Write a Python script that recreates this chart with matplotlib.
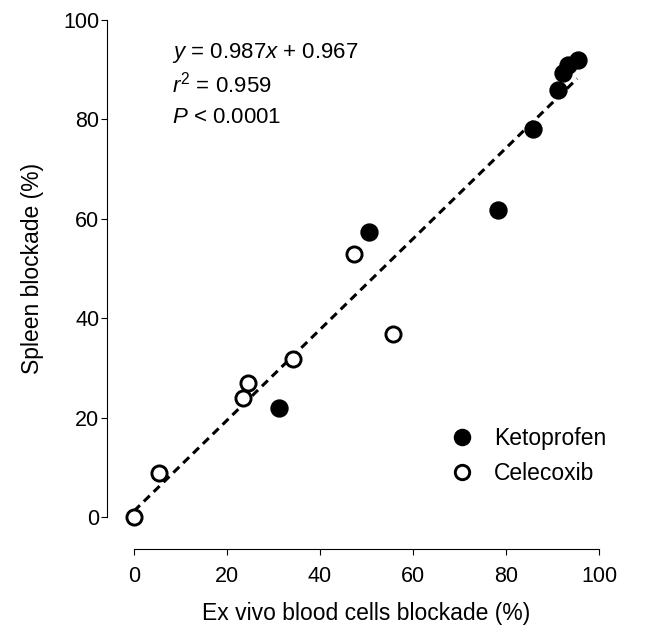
import numpy as np
import matplotlib.pyplot as plt

plt.rcParams['font.family'] = ['Liberation Sans', 'DejaVu Sans']
plt.rcParams['mathtext.fontset'] = 'custom'
plt.rcParams['mathtext.rm'] = 'Liberation Sans'
plt.rcParams['mathtext.it'] = 'Liberation Sans:italic'

# Ketoprofen (filled) and Celecoxib (open) points
keto_x = [95.5, 93.3, 92.3, 91.2, 85.8, 78.3, 50.6, 31.2]
keto_y = [92.0, 90.9, 89.3, 85.9, 78.1, 61.8, 57.4, 21.9]
cele_x = [0, 5.4, 23.4, 24.5, 34.2, 47.3, 55.7]
cele_y = [0, 8.9, 23.9, 27.0, 31.8, 52.9, 36.8]

# dashed line as drawn in the picture
line_slope, line_intercept = 0.913, 1.2
line_x = [0, 95.3]

ticks = [0, 20, 40, 60, 80, 100]

fig = plt.figure(figsize=(6.57, 6.36), dpi=100)
ax = fig.add_axes([134 / 657, 1 - 517 / 636, 465 / 657, 497 / 636])

lx = np.array(line_x)
ax.plot(lx, line_slope * lx + line_intercept, color='black', lw=2.2,
        ls=(0, (2.7, 1.8)), zorder=2)

ax.plot(keto_x, keto_y, 'o', color='black', ms=12.2, clip_on=False, zorder=3,
        label='Ketoprofen')
ax.plot(cele_x, cele_y, 'o', mfc='white', mec='black', mew=2.1, ms=10.9,
        clip_on=False, zorder=3, label='Celecoxib')

ax.set_xlim(0, 100)
ax.set_ylim(0, 100)
ax.set_xticks(ticks)
ax.set_yticks(ticks)
ax.tick_params(labelsize=15.5, length=4, width=0.8)
ax.tick_params(axis='x', pad=8.5)
ax.tick_params(axis='y', pad=1.5)

for s in ['top', 'right']:
    ax.spines[s].set_visible(False)
for s in ['left', 'bottom']:
    ax.spines[s].set_linewidth(0.8)
ax.spines['left'].set_position(('outward', 19.4))
ax.spines['bottom'].set_position(('outward', 23))

ax.set_xlabel('Ex vivo blood cells blockade (%)', fontsize=16.5, labelpad=10.5)
ax.set_ylabel('Spleen blockade (%)', fontsize=16.5, labelpad=14)

ax.text(0.0817, 0.9235, r'$y$ = 0.987$x$ + 0.967', transform=ax.transAxes,
        fontsize=16, va='baseline')
ax.text(0.0817, 0.855, r'$r^2$ = 0.959', transform=ax.transAxes,
        fontsize=16, va='baseline')
ax.text(0.0817, 0.7928, r'$P$ < 0.0001', transform=ax.transAxes,
        fontsize=16, va='baseline')

ax.legend(loc='upper left', bbox_to_anchor=(0.661, 0.199), borderaxespad=0,
          frameon=False, fontsize=16.5, handlelength=1.0, handletextpad=0.9,
          labelspacing=0.53, markerscale=0.95)

fig.savefig('out.png', dpi=100)
